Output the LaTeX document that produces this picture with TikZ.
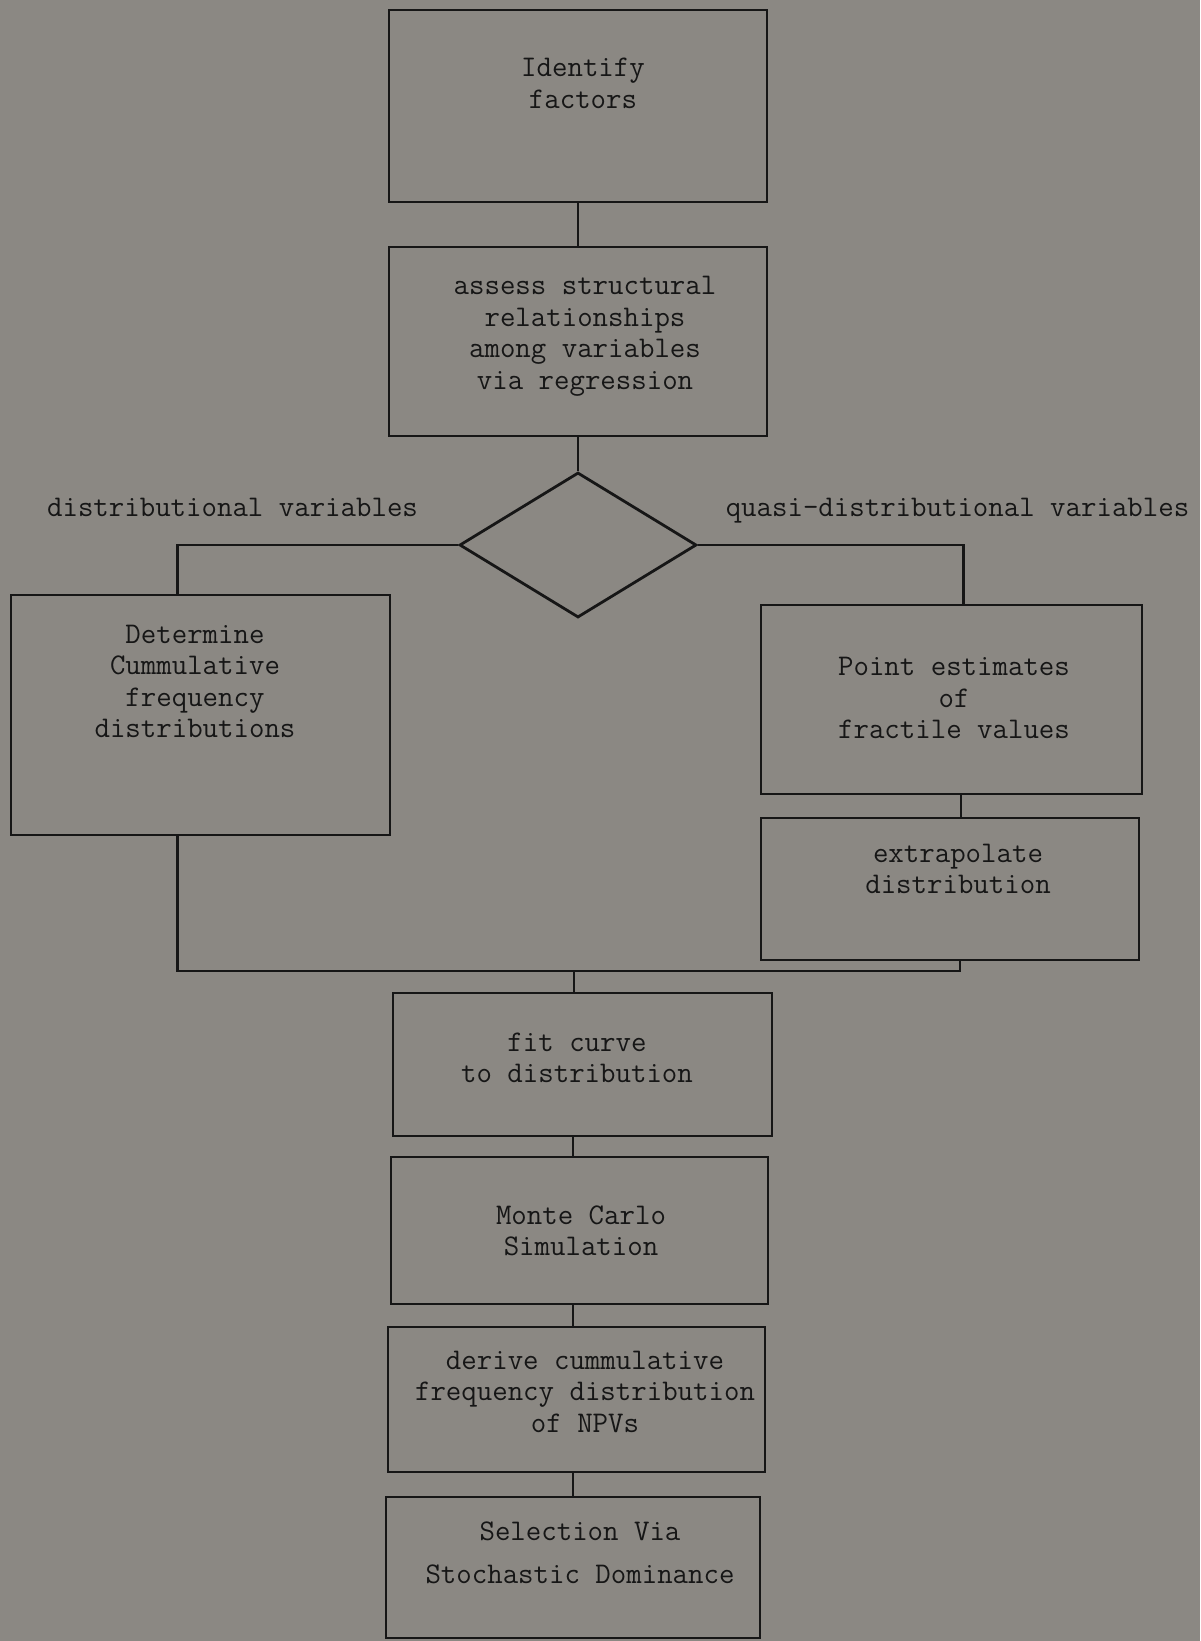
\documentclass[tikz,border=0pt]{standalone}
\usepackage{tikz}
\usetikzlibrary{shapes.geometric}
\definecolor{scangray}{RGB}{139,136,131}
\definecolor{ink}{RGB}{22,22,22}

\begin{document}
\begin{tikzpicture}[x=1pt,y=-1pt,
  stepbox/.style={draw=ink,line width=2.8pt,inner sep=0pt},
  decbox/.style={diamond,draw=ink,line width=2.8pt,inner sep=0pt,minimum width=237pt,minimum height=145pt},
  txt/.style={align=center,text=ink,inner sep=0pt,font=\ttfamily\fontsize{30}{31.5}\selectfont},
  conn/.style={draw=ink,line width=2.8pt}]
\fill[scangray] (0,0) rectangle (1200,1641);
\useasboundingbox (0,0) rectangle (1200,1641);

\node[stepbox,minimum width=378pt,minimum height=192pt] (ident) at (578,106) {};
\node[txt] (identtext) at (583,83.5) {Identify\\factors};
\node[stepbox,minimum width=378pt,minimum height=189pt] (assess) at (578,341.5) {};
\node[txt] (assesstext) at (585,336.5) {assess structural\\relationships\\among variables\\via regression};
\node[decbox] (dec) at (578,545) {};
\node[txt,anchor=base] (distlabel) at (232.5,516) {distributional variables};
\node[txt,anchor=base] (quasilabel) at (957.5,516) {quasi-distributional variables};

\node[stepbox,minimum width=379pt,minimum height=240pt] (detcum) at (200.5,715) {};
\node[txt] (detcumtext) at (195,681.5) {Determine\\Cummulative\\frequency\\distributions};
\node[stepbox,minimum width=381pt,minimum height=189pt] (point) at (951.5,699.5) {};
\node[txt] (pointtext) at (954,698) {Point estimates\\of\\fractile values};
\node[stepbox,minimum width=378pt,minimum height=142pt] (extra) at (950,889) {};
\node[txt] (extratext) at (958,869) {extrapolate\\distribution};

\node[stepbox,minimum width=379pt,minimum height=143pt] (fit) at (582.5,1064.5) {};
\node[txt] (fittext) at (577,1058) {fit curve\\to distribution};
\node[stepbox,minimum width=377pt,minimum height=147pt] (monte) at (579.5,1230.5) {};
\node[txt] (montetext) at (581,1231) {Monte Carlo\\Simulation};
\node[stepbox,minimum width=377pt,minimum height=145pt] (derive) at (576.5,1399.5) {};
\node[txt] (derivetext) at (585,1391.5) {derive cummulative\\frequency distribution\\of NPVs};
\node[stepbox,minimum width=374pt,minimum height=141pt] (select) at (573,1567.5) {};
\node[txt] (selecttext) at (580,1553) {Selection Via\\[12pt]Stochastic Dominance};

\draw[conn] (ident) -- (assess);
\draw[conn] (assess) -- (dec);
\draw[conn] (dec.west) -| ([xshift=-23pt]detcum.north);
\draw[conn] (dec.east) -| ([xshift=12pt]point.north);
\draw[conn] ([xshift=9.5pt]point.south) -- ([xshift=11pt]extra.north);
\coordinate (join) at (574,971);
\coordinate (spine) at (573,1000);
\draw[conn] ([xshift=-23pt]detcum.south) |- (join) -| ([xshift=10pt]extra.south);
\draw[conn] (join) -- (join |- fit.north);
\draw[conn] (fit.south -| spine) -- (monte.north -| spine);
\draw[conn] (monte.south -| spine) -- (derive.north -| spine);
\draw[conn] (derive.south -| spine) -- (select.north -| spine);

\end{tikzpicture}
\end{document}
